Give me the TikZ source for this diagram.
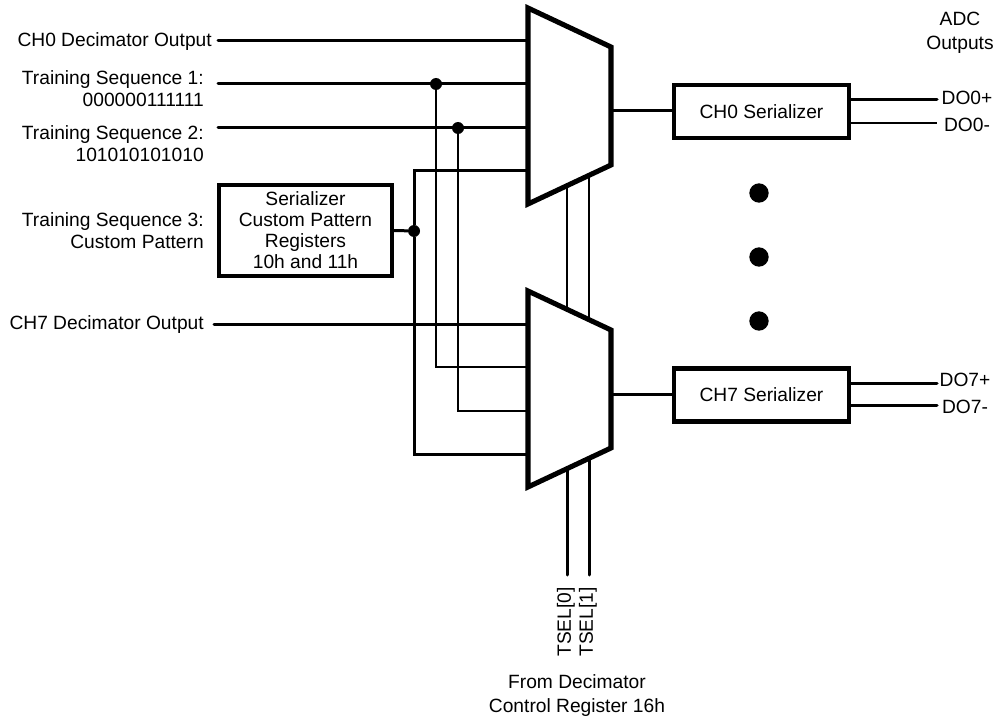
\documentclass[tikz,border=0pt]{standalone}
\usepackage{fontspec}
\setmainfont{Liberation Sans}
\usetikzlibrary{calc}
\tikzset{
  every picture/.style = {
    x=0.75pt,
    y=-0.75pt,
    font=\fontsize{14.4}{16.4}\selectfont
  }
}
\tikzset{
  wire/.style={
    line width=2.25pt,
    line cap=round
  },
  thinwire/.style={
    line width=2.05pt
  },
  regbox/.style={
    draw,
    line width=3.4pt,
    align=center,
    inner sep=0pt,
    font=\fontsize{14.4}{15.8}\selectfont
  },
  junction/.style={
    shape = circle,
    fill,
    inner sep = 0pt,
    minimum size=9pt
  },
  bigdot/.style={
    shape = circle,
    fill,
    inner sep = 0pt,
    minimum size=14.5pt
  },
  lbl/.style={
    align=right,
    anchor=east,
    inner sep=0pt
  },
  outlbl/.style={
    align=center,
    inner sep=0pt
  },
  tsel/.style={
    rotate=90,
    inner sep=0pt
  }
}
\tikzset{
  mux/.pic={
    \draw[line width=3.8pt,line join=miter,fill=white] (0,0)--(83,39)--(83,157)--(0,196)--cycle;
    \coordinate (-ia) at (0,33);
    \coordinate (-ib) at (0,76);
    \coordinate (-ic) at (0,120);
    \coordinate (-id) at (0,163);
    \coordinate (-o) at (83,103);
    \coordinate (-ta) at (39,18.3);
    \coordinate (-tb) at (61,28.7);
    \coordinate (-ba) at (39,177.7);
    \coordinate (-bb) at (61,167.3);
  }
}
\begin{document}
\begin{tikzpicture}
    \useasboundingbox (0,0) rectangle (1001,717);
    % muxes
    \pic (muxa) at (528,8) {mux};
    \pic (muxb) at (528,291) {mux};
    % boxes
    \node[regbox,minimum width=129.5pt,minimum height=68pt] (regs) at (305.5,230.5) {Serializer\\Custom Pattern\\Registers\\10h and 11h};
    \node[regbox,minimum width=131pt,minimum height=40pt] (sera) at (761.5,111.5) {CH0 Serializer};
    \node[regbox,minimum width=131pt,minimum height=40pt] (serb) at (761.5,395) {CH7 Serializer};
    % left labels
    \node[lbl] (ch0lbl) at (212,41.5) {CH0 Decimator Output};
    \node[lbl] (ts1lbl) at (204,89) {Training Sequence 1:\\000000111111};
    \node[lbl] (ts2lbl) at (204,144) {Training Sequence 2:\\101010101010};
    \node[lbl] (ts3lbl) at (204,230.5) {Training Sequence 3:\\Custom Pattern};
    \node[lbl] (ch7lbl) at (204,325) {CH7 Decimator Output};
    % free ends
    \coordinate (ch0in) at (218,41);
    \coordinate (ts1in) at (218,84);
    \coordinate (ts2in) at (218,128);
    \coordinate (ch7in) at (214,324);
    \coordinate (doap) at (937,100);
    \coordinate (doan) at (937,123);
    \coordinate (dobp) at (937,383);
    \coordinate (dobn) at (937,405);
    \coordinate (tselaend) at (567,575);
    \coordinate (tselbend) at (589,575);
    % junctions
    \node[junction] (ja) at (436,84) {};
    \node[junction] (jb) at (458,128) {};
    \node[junction] (jc) at (414,231) {};
    % inputs
    \draw[wire] (ch0in)--(muxa-ia);
    \draw[wire] (ts1in)--(muxa-ib);
    \draw[wire] (ts2in)--(muxa-ic);
    \draw[wire] (ch7in)--(muxb-ia);
    \draw[wire] (regs.east)--(jc);
    \draw[wire] (jc) |- (muxa-id);
    \draw[wire] (jc) |- (muxb-id);
    \draw[thinwire] (ja) |- (muxb-ib);
    \draw[thinwire] (jb) |- (muxb-ic);
    % selects
    \draw[thinwire] (muxa-ba)--(muxb-ta);
    \draw[thinwire] (muxa-bb)--(muxb-tb);
    \draw[wire] (muxb-ba)--(tselaend);
    \draw[wire] (muxb-bb)--(tselbend);
    % outputs
    \draw[wire] (muxa-o)--(muxa-o-|sera.west);
    \draw[wire] (muxb-o)--(muxb-o-|serb.west);
    \draw[wire] (doap-|sera.east)--(doap);
    \draw[thinwire] (doan-|sera.east)--(doan);
    \draw[wire] (dobp-|serb.east)--(dobp);
    \draw[wire] (dobn-|serb.east)--(dobn);
    % right labels
    \node[outlbl] (adclbl) at (960,33) {ADC\\[1.5pt]Outputs};
    \node[outlbl] (doaplbl) at (967,98) {DO0+};
    \node[outlbl] (doanlbl) at (967,125) {DO0-};
    \node[outlbl] (dobplbl) at (965,380) {DO7+};
    \node[outlbl] (dobnlbl) at (965,407) {DO7-};
    % dots
    \node[bigdot] (dota) at (759,193) {};
    \node[bigdot] (dotb) at (759,257) {};
    \node[bigdot] (dotc) at (759,321) {};
    % bottom labels
    \node[tsel] (tselalbl) at (566,622) {TSEL[0]};
    \node[tsel] (tselblbl) at (588,622) {TSEL[1]};
    \node[outlbl] (srclbl) at (577,695.5) {From Decimator\\[1pt]Control Register 16h};
\end{tikzpicture}
\end{document}
